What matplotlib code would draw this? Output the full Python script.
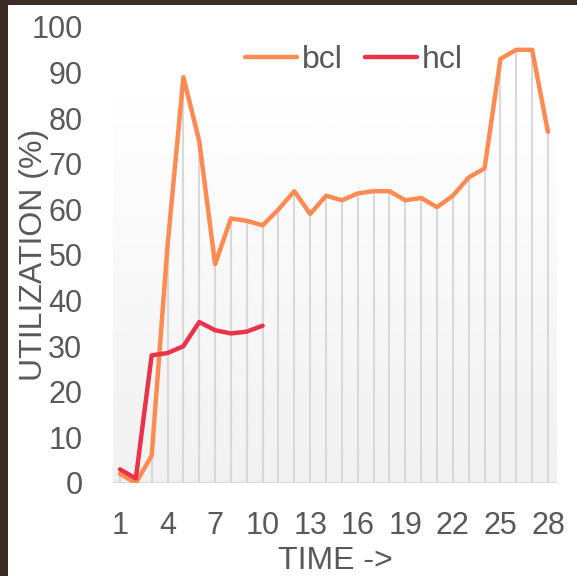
import numpy as np
import matplotlib.pyplot as plt
from matplotlib.patches import Rectangle

# data
time = list(range(1, 29))
bcl = [2, 0, 6, 52, 89, 75, 48, 58, 57.5, 56.5, 60, 64, 59, 63, 62, 63.5,
       64, 64, 62, 62.5, 60.5, 63, 67, 69, 93, 95, 95, 77]
hcl_time = list(range(1, 11))
hcl = [3, 1, 28, 28.5, 30, 35.3, 33.5, 32.8, 33.2, 34.5]
xticks = list(range(1, 29, 3))
yticks = list(range(0, 101, 10))

text_col = '#595959'
plt.rcParams['font.family'] = ['Liberation Sans', 'DejaVu Sans']

fig = plt.figure(figsize=(5.77, 5.76), dpi=100)
fig.patch.set_facecolor('#3b2c24')
# white card inside the dark frame
card = Rectangle((8 / 577, 0), 1, 1 - 5 / 576, transform=fig.transFigure,
                 facecolor='white', edgecolor='none', zorder=-5)
fig.add_artist(card)

ax = fig.add_axes([113 / 577, 1 - 483 / 576, 444 / 577, 456 / 576])
ax.set_zorder(1)
ax.set_facecolor('none')
ax.set_xlim(0.56, 28.57)
ax.set_ylim(0, 100)

# soft gradient behind the plot
grad = np.linspace(0.945, 0.998, 256).reshape(-1, 1)
ax.imshow(grad, cmap='gray', vmin=0, vmax=1, aspect='auto', origin='lower',
          extent=[0.56, 28.57, 0, 88], zorder=0)

# drop lines and baseline
ax.vlines(time, 0, bcl, color='#d9d9d9', linewidth=1.5, zorder=1)
ax.axhline(0, color='#d9d9d9', linewidth=1.5, zorder=1)

ax.plot(time, bcl, color='#ff8a52', linewidth=3.2, label='bcl', zorder=3,
        solid_joinstyle='round', solid_capstyle='round')
ax.plot(hcl_time, hcl, color='#e8334a', linewidth=3.2, label='hcl', zorder=3,
        solid_joinstyle='round', solid_capstyle='round')

for s in ax.spines.values():
    s.set_visible(False)
ax.set_xticks(xticks)
ax.set_yticks(yticks)
ax.tick_params(length=0, labelsize=22, labelcolor=text_col)
ax.tick_params(axis='x', pad=20)
ax.tick_params(axis='y', pad=22)

ax.set_xlabel('TIME ->', fontsize=23, color=text_col, labelpad=4)
ax.set_ylabel('UTILIZATION (%)', fontsize=23, color=text_col, labelpad=-13)

leg = ax.legend(loc='center', bbox_to_anchor=(0.543, 0.928), ncol=2, frameon=False,
                fontsize=23, handlelength=1.63, handletextpad=0.15, columnspacing=0.7)
for t in leg.get_texts():
    t.set_color(text_col)

fig.savefig('out.png', dpi=100, facecolor=fig.get_facecolor())
